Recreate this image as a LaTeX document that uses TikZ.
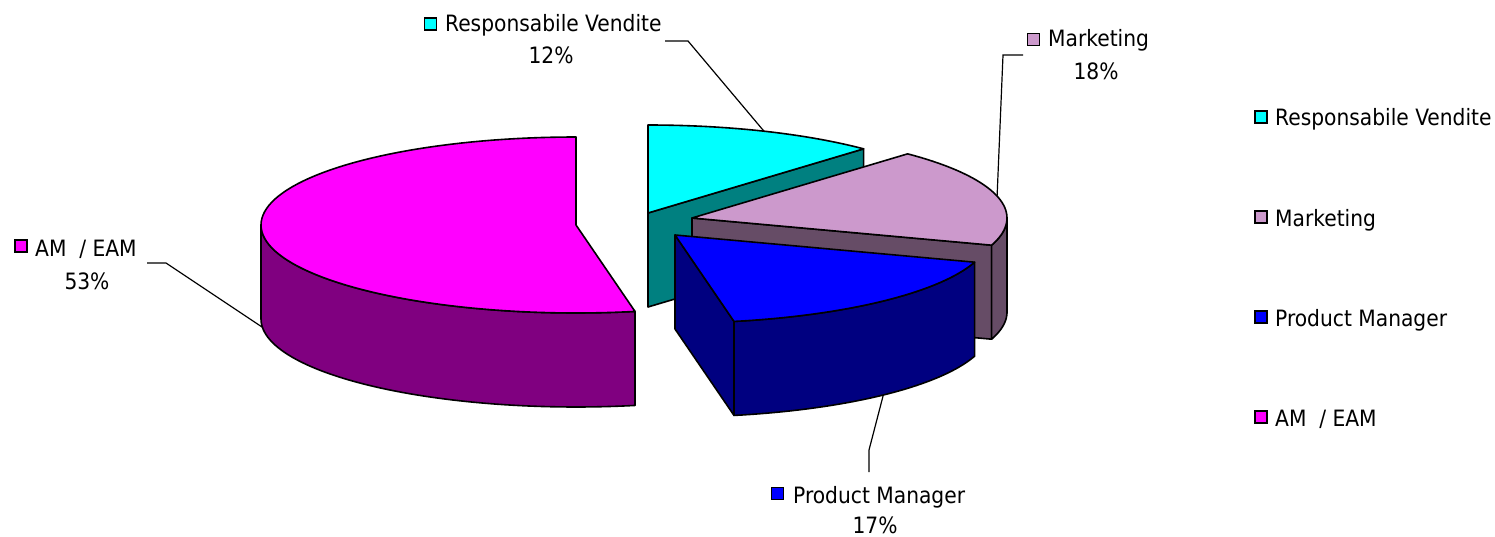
\documentclass[tikz,border=0pt]{standalone}
\usepackage{fontspec}
\setmainfont{DejaVu Sans Condensed}
\definecolor{rvtop}{HTML}{00FFFF}
\definecolor{rvside}{HTML}{008080}
\definecolor{mktop}{HTML}{CC99CC}
\definecolor{mkside}{HTML}{664C66}
\definecolor{pmtop}{HTML}{0000FF}
\definecolor{pmside}{HTML}{000080}
\definecolor{amtop}{HTML}{FF00FF}
\definecolor{amside}{HTML}{800080}
\tikzset{
  edge/.style={draw=black, line width=1.6pt, line join=round},
  lbl/.style={font=\fontsize{22.5}{26}\selectfont, inner sep=0pt, text=black},
  key/.style={draw=black, line width=1.2pt, minimum size=12pt, inner sep=0pt},
  leader/.style={draw=black, line width=1.2pt},
}
\begin{document}
\begin{tikzpicture}[x=1pt, y=-1pt]
\useasboundingbox (0,0) rectangle (1495,537);
% ellipse radii and slice thickness
\def\RX{315}\def\RY{88}\def\H{94}

% ---------- Responsabile Vendite (12%), 46.8..90 deg ----------
\coordinate (rvc) at (648,213);
\filldraw[edge, fill=rvside] (rvc) -- ({648+\RX*cos(46.8)},{213-\RY*sin(46.8)})
  -- ++(0,\H) -- (648,{213+\H}) -- cycle;
\filldraw[edge, fill=rvtop] (rvc)
  -- plot[domain=90:46.8, samples=30] ({648+\RX*cos(\x)},{213-\RY*sin(\x)}) -- cycle;
\coordinate (rvtip) at ({648+\RX*cos(68.4)},{213-\RY*sin(68.4)});

% ---------- Marketing (18%), -18..46.8 deg ----------
\coordinate (mkc) at (692,218);
\filldraw[edge, fill=mkside] (mkc) -- ({692+\RX*cos(-18)},{218-\RY*sin(-18)})
  -- ++(0,\H) -- (692,{218+\H}) -- cycle;
\filldraw[edge, fill=mkside]
  plot[domain=-18:0, samples=20] ({692+\RX*cos(\x)},{218-\RY*sin(\x)})
  -- plot[domain=0:-18, samples=20] ({692+\RX*cos(\x)},{218+\H-\RY*sin(\x)}) -- cycle;
\filldraw[edge, fill=mktop] (mkc)
  -- plot[domain=46.8:-18, samples=40] ({692+\RX*cos(\x)},{218-\RY*sin(\x)}) -- cycle;
\coordinate (mktip) at ({692+\RX*cos(14.4)},{218-\RY*sin(14.4)});

% ---------- Product Manager (17%), -79.2..-18 deg ----------
\coordinate (pmc) at (675,235);
\filldraw[edge, fill=pmside] (pmc) -- ({675+\RX*cos(-79.2)},{235-\RY*sin(-79.2)})
  -- ++(0,\H) -- (675,{235+\H}) -- cycle;
\filldraw[edge, fill=pmside]
  plot[domain=-79.2:-18, samples=40] ({675+\RX*cos(\x)},{235-\RY*sin(\x)})
  -- plot[domain=-18:-79.2, samples=40] ({675+\RX*cos(\x)},{235+\H-\RY*sin(\x)}) -- cycle;
\filldraw[edge, fill=pmtop] (pmc)
  -- plot[domain=-18:-79.2, samples=40] ({675+\RX*cos(\x)},{235-\RY*sin(\x)}) -- cycle;
\coordinate (pmtip) at ({675+\RX*cos(-48.6)},{235+\H-\RY*sin(-48.6)});

% ---------- AM / EAM (53%), 90..280.8 deg ----------
\coordinate (amc) at (576,225);
\filldraw[edge, fill=amside]
  plot[domain=180:280.8, samples=60] ({576+\RX*cos(\x)},{225-\RY*sin(\x)})
  -- plot[domain=280.8:180, samples=60] ({576+\RX*cos(\x)},{225+\H-\RY*sin(\x)}) -- cycle;
\filldraw[edge, fill=amtop] (amc)
  -- plot[domain=90:280.8, samples=90] ({576+\RX*cos(\x)},{225-\RY*sin(\x)}) -- cycle;
\coordinate (amtip) at ({576+\RX*cos(185.4)},{225+\H-\RY*sin(185.4)});

% ---------- data labels ----------
\node[key, fill=rvtop] (rvkey) at (430.5,24) {};
\node[lbl, anchor=base west] (rvname) at (445,32) {Responsabile Vendite};
\node[lbl, anchor=base] (rvval) at (551,64) {12\%};
\coordinate (rvA) at (665,41);
\coordinate (rvB) at (688,41);
\draw[leader] (rvA) -- (rvB) -- (rvtip);

\node[key, fill=mktop] (mkkey) at (1033.5,39.5) {};
\node[lbl, anchor=base west] (mkname) at (1048,47) {Marketing};
\node[lbl, anchor=base] (mkval) at (1096,80) {18\%};
\coordinate (mkA) at (1023,55);
\coordinate (mkB) at (1003,55);
\draw[leader] (mkA) -- (mkB) -- (mktip);

\node[key, fill=amtop] (amkey) at (21,246) {};
\node[lbl, anchor=base west] (amname) at (35,257) {AM\ \ / EAM};
\node[lbl, anchor=base] (amval) at (87,289) {53\%};
\coordinate (amA) at (147,263);
\coordinate (amB) at (166,263);
\draw[leader] (amA) -- (amB) -- (amtip);

\node[key, fill=pmtop] (pmkey) at (777.5,493.5) {};
\node[lbl, anchor=base west] (pmname) at (793,503) {Product Manager};
\node[lbl, anchor=base] (pmval) at (875,533) {17\%};
\coordinate (pmA) at (869,472);
\coordinate (pmB) at (869,450);
\draw[leader] (pmA) -- (pmB) -- (pmtip);

% ---------- legend ----------
\node[key, fill=rvtop] (lg1k) at (1261,117) {};
\node[lbl, anchor=base west] (lg1) at (1275,126) {Responsabile Vendite};
\node[key, fill=mktop] (lg2k) at (1261,217) {};
\node[lbl, anchor=base west] (lg2) at (1275,226) {Marketing};
\node[key, fill=pmtop] (lg3k) at (1261,317) {};
\node[lbl, anchor=base west] (lg3) at (1275,326) {Product Manager};
\node[key, fill=amtop] (lg4k) at (1261,417) {};
\node[lbl, anchor=base west] (lg4) at (1275,426) {AM\ \ / EAM};
\end{tikzpicture}
\end{document}
